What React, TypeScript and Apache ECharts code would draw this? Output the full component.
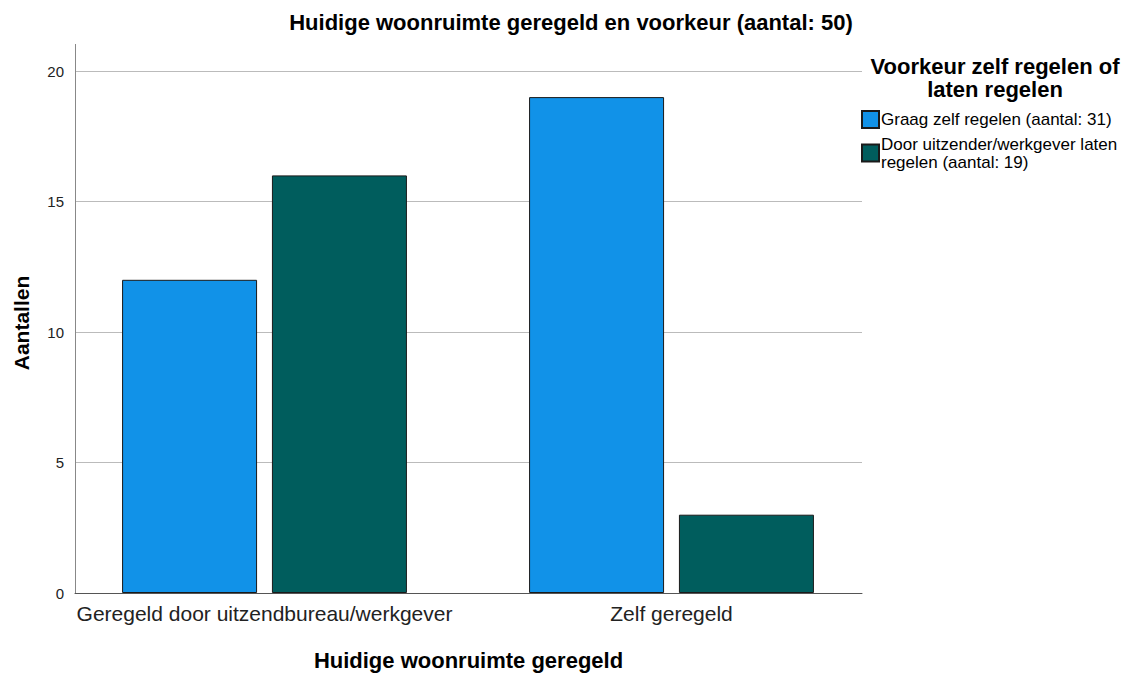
import React, { useEffect, useRef } from "react";
import * as echarts from "echarts";

const categories = ["Geregeld door uitzendbureau/werkgever", "Zelf geregeld"];
const seriesNames = ["Graag zelf regelen (aantal: 31)", "Door uitzender/werkgever laten regelen (aantal: 19)"];
const legendLabels = ["Graag zelf regelen (aantal: 31)", "Door uitzender/werkgever laten\nregelen (aantal: 19)"];
const zelfRegelen = [12, 19];
const latenRegelen = [16, 3];
const colors = ["#1192e8", "#005d5d"];
const title = "Huidige woonruimte geregeld en voorkeur (aantal: 50)";
const xTitle = "Huidige woonruimte geregeld";
const yTitle = "Aantallen";
const legendTitle = "Voorkeur zelf regelen of\nlaten regelen";

const FONT = "'Liberation Sans', Arial, sans-serif";

export default function App() {
  const ref = useRef<HTMLDivElement>(null);
  useEffect(() => {
    if (!ref.current) return;
    const chart = echarts.init(ref.current, undefined, { renderer: "svg" });
    chart.setOption({
      animation: false,
      backgroundColor: "#ffffff",
      textStyle: { fontFamily: FONT },
      title: {
        text: title,
        left: 566,
        textAlign: "center",
        top: 6,
        textStyle: { fontFamily: FONT, fontSize: 22, fontWeight: "bold", color: "#000" },
      },
      legend: {
        orient: "vertical",
        left: 861,
        top: 110,
        padding: 0,
        itemWidth: 17,
        itemHeight: 17,
        itemGap: 6,
        icon: "rect",
        data: seriesNames,
        formatter: (name: string) => legendLabels[seriesNames.indexOf(name)],
        textStyle: { fontFamily: FONT, fontSize: 17, lineHeight: 18, color: "#000", padding: [0, 0, 0, -3] },
      },
      grid: [
        { left: 75, top: 71, width: 787, height: 522, outerBoundsMode: "none", containLabel: false },
        { left: 61, top: 71, width: 814, height: 522, outerBoundsMode: "none", containLabel: false },
      ],
      xAxis: [
        {
          gridIndex: 0,
          type: "category",
          data: ["_"],
          axisLine: { show: true, lineStyle: { color: "#555", width: 1 } },
          axisTick: { show: false },
          axisLabel: { show: false },
          name: xTitle,
          nameLocation: "middle",
          nameGap: 56,
          nameTextStyle: { fontFamily: FONT, fontSize: 22, fontWeight: "bold", color: "#000" },
        },
        {
          gridIndex: 1,
          type: "category",
          data: categories,
          axisLine: { show: false },
          axisTick: { show: false },
          axisLabel: { fontFamily: FONT, fontSize: 21, color: "#222", margin: 10, interval: 0 },
        },
      ],
      yAxis: [
        {
          gridIndex: 0,
          type: "value",
          min: 0,
          max: 20,
          interval: 5,
          axisLine: { show: true, lineStyle: { color: "#888", width: 1 } },
          axisTick: { show: false },
          axisLabel: { fontFamily: FONT, fontSize: 15, color: "#222", margin: 11, padding: [4, 0, 0, 0] },
          splitLine: { show: true, lineStyle: { color: "#bbbbbb", width: 1 } },
        },
        {
          gridIndex: 1,
          type: "value",
          min: 0,
          max: 20,
          interval: 5,
          show: false,
          splitLine: { show: false },
        },
      ],
      series: [
        {
          name: seriesNames[0],
          type: "bar",
          xAxisIndex: 1,
          yAxisIndex: 1,
          data: zelfRegelen,
          barWidth: 135,
          barGap: "11%",
          itemStyle: { color: colors[0], borderColor: "#1a1a1a", borderWidth: 1 },
        },
        {
          name: seriesNames[1],
          type: "bar",
          xAxisIndex: 1,
          yAxisIndex: 1,
          data: latenRegelen,
          barWidth: 135,
          barGap: "11%",
          itemStyle: { color: colors[1], borderColor: "#1a1a1a", borderWidth: 1 },
        },
      ],
      graphic: [
        {
          type: "line",
          shape: { x1: 75.5, y1: 44, x2: 75.5, y2: 71 },
          style: { stroke: "#888", lineWidth: 1 },
        },
        {
          type: "text",
          x: 21,
          y: 323,
          rotation: Math.PI / 2,
          style: {
            text: yTitle,
            fontFamily: FONT,
            fontSize: 21,
            fontWeight: "bold",
            fill: "#000",
            textAlign: "center",
            textVerticalAlign: "middle",
          },
        },
        {
          type: "text",
          x: 995,
          y: 55,
          style: {
            text: legendTitle,
            fontFamily: FONT,
            fontSize: 22,
            fontWeight: "bold",
            lineHeight: 23,
            fill: "#000",
            textAlign: "center",
            textVerticalAlign: "top",
          },
        },
      ],
    });
    return () => chart.dispose();
  }, []);
  return (
    <div
      ref={ref}
      style={{ position: "absolute", left: 0, top: 0, width: 1133, height: 673, background: "#fff" }}
    />
  );
}
